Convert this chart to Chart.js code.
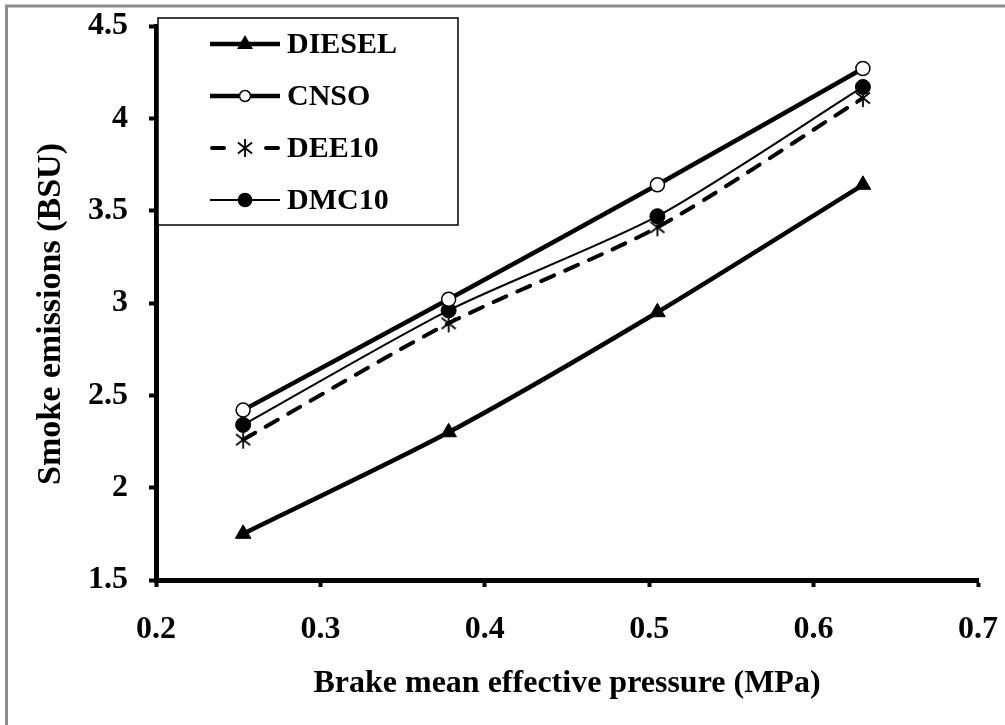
<!DOCTYPE html>
<html>
<head>
<meta charset="utf-8">
<title>Smoke emissions vs BMEP</title>
<script src="https://cdn.jsdelivr.net/npm/chart.js@4.4.1/dist/chart.umd.min.js"></script>
<style>
  html, body { margin: 0; padding: 0; background: #fff; }
  #wrap { width: 1005px; height: 725px; }
</style>
</head>
<body>
<div id="wrap"><canvas id="smokeChart" width="1005" height="725"></canvas></div>
<script>
// Data
const bmep = [0.253, 0.378, 0.505, 0.63];
const seriesNames = ['DIESEL', 'CNSO', 'DEE10', 'DMC10'];
const dieselSmoke = [1.75, 2.30, 2.95, 3.64];
const cnsoSmoke = [2.42, 3.02, 3.64, 4.27];
const dee10Smoke = [2.26, 2.89, 3.41, 4.11];
const dmc10Smoke = [2.34, 2.96, 3.47, 4.17];
const xTicks = [0.2, 0.3, 0.4, 0.5, 0.6, 0.7];
const yTicks = [1.5, 2, 2.5, 3, 3.5, 4, 4.5];
const xTitle = 'Brake mean effective pressure (MPa)';
const yTitle = 'Smoke emissions (BSU)';

const SERIF = 'Liberation Serif';

// Excel-style "star" marker: vertical bar plus an X
function makeStar(size, lw) {
    const c = document.createElement('canvas');
    c.width = c.height = size;
    const g = c.getContext('2d');
    const mid = size / 2, r = size / 2 - 1;
    g.strokeStyle = '#000';
    g.lineWidth = lw;
    g.beginPath();
    [90, 38, 142].forEach(deg => {
        const a = deg * Math.PI / 180;
        g.moveTo(mid - r * Math.cos(a), mid - r * Math.sin(a));
        g.lineTo(mid + r * Math.cos(a), mid + r * Math.sin(a));
    });
    g.stroke();
    return c;
}
const starMark = makeStar(20, 1.8);

const toPoints = vals => bmep.map((x, i) => ({ x: x, y: vals[i] }));

const datasets = [
    {
        label: seriesNames[0], data: toPoints(dieselSmoke),
        borderColor: '#000', borderWidth: 4.5,
        pointStyle: 'triangle', pointRadius: 9,
        pointBackgroundColor: '#000', pointBorderColor: '#000', pointBorderWidth: 1
    },
    {
        label: seriesNames[1], data: toPoints(cnsoSmoke),
        borderColor: '#000', borderWidth: 4.5,
        pointStyle: 'circle', pointRadius: 7,
        pointBackgroundColor: '#fff', pointBorderColor: '#000', pointBorderWidth: 1.5
    },
    {
        label: seriesNames[2], data: toPoints(dee10Smoke),
        borderColor: '#000', borderWidth: 4, borderDash: [14, 12], borderCapStyle: 'round',
        pointStyle: starMark, pointRadius: 10
    },
    {
        label: seriesNames[3], data: toPoints(dmc10Smoke),
        borderColor: '#000', borderWidth: 2,
        pointStyle: 'circle', pointRadius: 7.5,
        pointBackgroundColor: '#000', pointBorderColor: '#000', pointBorderWidth: 1
    }
];

// legend box drawn inside the plot, top-left like the original
const legendBox = {
    id: 'legendBox',
    afterDraw(chart) {
        const ctx = chart.ctx;
        const x0 = 158, y0 = 18, w = 300, h = 207;
        const rows = [44, 96, 148, 200];
        ctx.save();
        ctx.fillStyle = '#fff';
        ctx.fillRect(x0, y0, w, h);
        ctx.strokeStyle = '#000';
        ctx.lineWidth = 1.5;
        ctx.strokeRect(x0, y0, w, h);

        chart.data.datasets.forEach((ds, i) => {
            const y = rows[i];
            ctx.strokeStyle = '#000';
            ctx.lineWidth = ds.borderWidth;
            ctx.lineCap = ds.borderDash ? 'round' : 'butt';
            ctx.beginPath();
            if (ds.borderDash) {
                ctx.moveTo(212, y); ctx.lineTo(224, y);
                ctx.moveTo(266, y); ctx.lineTo(278, y);
            } else {
                ctx.moveTo(210, y); ctx.lineTo(280, y);
            }
            ctx.stroke();
            ctx.lineCap = 'butt';

            if (ds.pointStyle === 'triangle') {
                ctx.fillStyle = '#000';
                ctx.beginPath();
                ctx.moveTo(245, y - 9); ctx.lineTo(253, y + 5); ctx.lineTo(237, y + 5);
                ctx.closePath(); ctx.fill();
            } else if (ds.pointStyle === 'circle') {
                ctx.beginPath();
                ctx.arc(245, y, ds.pointBackgroundColor === '#fff' ? 5.5 : 6.5, 0, Math.PI * 2);
                ctx.fillStyle = ds.pointBackgroundColor;
                ctx.fill();
                ctx.lineWidth = 1.5;
                ctx.stroke();
            } else {
                ctx.drawImage(starMark, 245 - 10, y - 10);
            }

            ctx.fillStyle = '#000';
            ctx.font = 'bold 30px "' + SERIF + '"';
            ctx.textAlign = 'left';
            ctx.textBaseline = 'middle';
            ctx.fillText(ds.label, 287, y + 1);
        });
        ctx.restore();
    }
};

// gray frame round the whole figure, plus the rotated y title
const frame = {
    id: 'frame',
    beforeDraw(chart) {
        const ctx = chart.ctx;
        ctx.save();
        ctx.fillStyle = '#fff';
        ctx.fillRect(0, 0, chart.width, chart.height);
        ctx.restore();
    },
    afterDraw(chart) {
        const ctx = chart.ctx;
        ctx.save();
        ctx.strokeStyle = '#8c8c8c';
        ctx.lineWidth = 3;
        ctx.strokeRect(6.5, 6, chart.width + 20, chart.height + 20);

        ctx.translate(51, 314);
        ctx.rotate(-Math.PI / 2);
        ctx.fillStyle = '#000';
        ctx.font = 'bold 34px "' + SERIF + '"';
        ctx.textAlign = 'center';
        ctx.textBaseline = 'middle';
        ctx.fillText(yTitle, 0, 0);
        ctx.restore();
    }
};

new Chart(document.getElementById('smokeChart').getContext('2d'), {
    type: 'line',
    data: { datasets: datasets },
    plugins: [frame, legendBox],
    options: {
        responsive: false,
        animation: false,
        layout: { padding: { top: 26, right: 27, left: 0, bottom: 0 } },
        elements: { line: { tension: 0.25, fill: false } },
        plugins: { legend: { display: false }, tooltip: { enabled: false } },
        scales: {
            x: {
                type: 'linear',
                min: xTicks[0], max: xTicks[xTicks.length - 1],
                afterBuildTicks: axis => { axis.ticks = xTicks.map(v => ({ value: v })); },
                afterFit: axis => {
                    axis.height = 145;
                    axis.paddingLeft = 0;
                    axis.paddingRight = 0;
                },
                grid: { drawOnChartArea: false, drawTicks: true, tickLength: 7, tickWidth: 4, tickColor: '#000' },
                border: { display: true, color: '#000', width: 5 },
                ticks: {
                    color: '#000', padding: 24, maxRotation: 0,
                    font: { family: SERIF, size: 32, weight: 'bold' },
                    callback: v => v.toFixed(1)
                },
                title: {
                    display: true, text: xTitle, color: '#000',
                    font: { family: SERIF, size: 32, weight: 'bold' },
                    padding: { top: 0, bottom: 22 }
                }
            },
            y: {
                min: yTicks[0], max: yTicks[yTicks.length - 1],
                afterBuildTicks: axis => { axis.ticks = yTicks.map(v => ({ value: v })); },
                afterFit: axis => {
                    axis.width = 156;
                    axis.paddingTop = 0;
                    axis.paddingBottom = 0;
                },
                grid: { drawOnChartArea: false, drawTicks: true, tickLength: 7, tickWidth: 4, tickColor: '#000' },
                border: { display: true, color: '#000', width: 5 },
                ticks: {
                    color: '#000', padding: 21,
                    font: { family: SERIF, size: 32, weight: 'bold' },
                    callback: v => String(v)
                },
                title: { display: false }
            }
        }
    }
});
</script>
</body>
</html>
